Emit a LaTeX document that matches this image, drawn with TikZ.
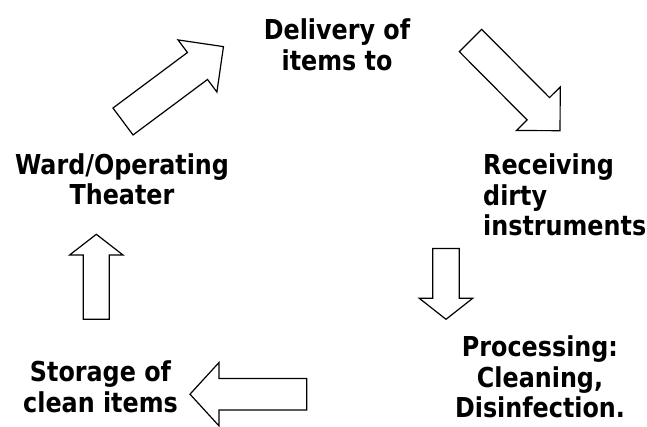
\documentclass[tikz,border=0pt]{standalone}
\usepackage{fontspec}
\setmainfont{DejaVu Sans}[FakeStretch=0.87]
\tikzset{
  lbl/.style={inner sep=0pt, font=\fontsize{27.4}{30.5}\selectfont\bfseries},
  barrow/.style={draw=black, line width=1.2pt, fill=white, line join=miter}
}
\newcommand\myblockarrow[7]{% tail x, tail y, angle, total length, shaft length, shaft half width, head half width
  \begin{scope}[shift={(#1,#2)}, rotate=#3]
    \draw[barrow] (0,-#6) -- (#5,-#6) -- (#5,-#7) -- (#4,0) -- (#5,#7) -- (#5,#6) -- (0,#6) -- cycle;
  \end{scope}}
\begin{document}
\begin{tikzpicture}[x=1pt,y=1pt]
\fill[white] (0,0) rectangle (647,426);
\useasboundingbox (0,0) rectangle (647,426);

\node[lbl, anchor=base] (deliv) at (337,386) {\begin{tabular}[t]{@{}c@{}}Delivery of\\items to\end{tabular}};
\node[lbl, anchor=base west] (recv) at (483,251) {\begin{tabular}[t]{@{}l@{}}Receiving\\dirty\\instruments\end{tabular}};
\node[lbl, anchor=base] (proc) at (540,69.3) {\begin{tabular}[t]{@{}c@{}}Processing:\\Cleaning,\\Disinfection.\end{tabular}};
\node[lbl, anchor=base] (stor) at (100.5,44.3) {\begin{tabular}[t]{@{}c@{}}Storage of\\clean items\end{tabular}};
\node[lbl, anchor=base] (ward) at (122,251.7) {\begin{tabular}[t]{@{}c@{}}Ward/Operating\\Theater\end{tabular}};

% up-right arrow (ward -> delivery)
\myblockarrow{123}{304.5}{36.7}{125.3}{92.9}{16.8}{32.5}
% down-right arrow (delivery -> receiving)
\myblockarrow{470.5}{385.5}{-45.2}{127.1}{96.2}{15.8}{30.9}
% down arrow (receiving -> processing)
\myblockarrow{446}{177.5}{-90}{70.8}{49.8}{13.3}{26.7}
% left arrow (processing -> storage)
\myblockarrow{306.7}{31.8}{180}{116.7}{87.7}{15.8}{31.7}
% up arrow (storage -> ward)
\myblockarrow{96.3}{106.7}{90}{85}{64.3}{13}{26.7}
\end{tikzpicture}
\end{document}
